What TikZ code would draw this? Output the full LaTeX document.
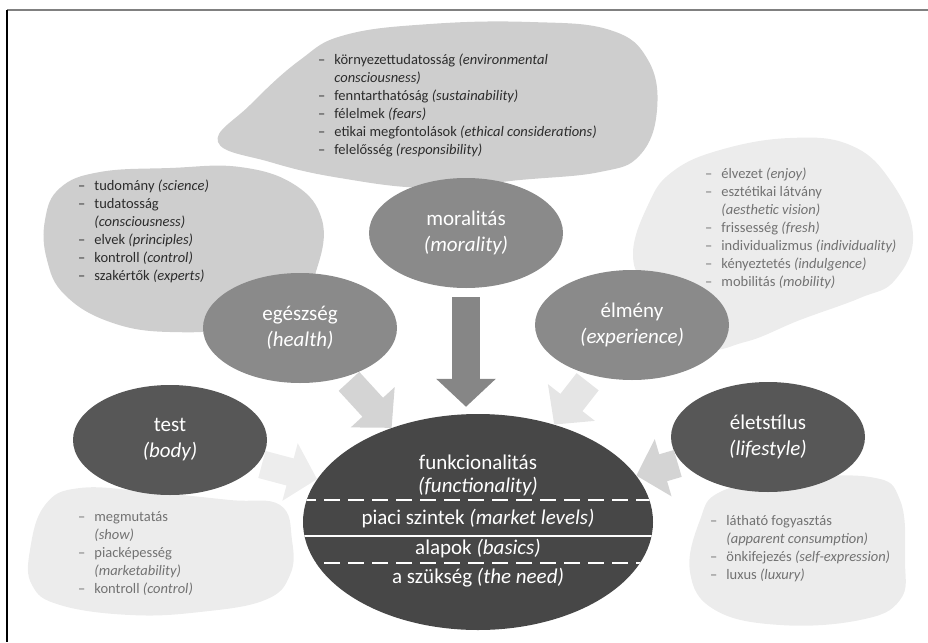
\documentclass[tikz,border=0pt]{standalone}
\usepackage{fontspec}
\setmainfont{Carlito}
\usetikzlibrary{shapes.geometric,arrows.meta}

\definecolor{cloudmid}{HTML}{CECECE}
\definecolor{cloudlight}{HTML}{ECECEC}
\definecolor{ellmid}{HTML}{8A8A8A}
\definecolor{elldark}{HTML}{575757}
\definecolor{coredark}{HTML}{474747}
\definecolor{txtdark}{HTML}{2C2C2C}
\definecolor{txtlight}{HTML}{727272}
\definecolor{arrowdark}{HTML}{868686}
\definecolor{arrowmid}{HTML}{D4D4D4}
\definecolor{arrowlight}{HTML}{E5E5E5}

\newcommand{\listfont}{\fontsize{14.5}{18}\selectfont}
\newcommand{\bigfont}{\fontsize{21}{26}\selectfont}

\begin{document}
\begin{tikzpicture}[x=1pt, y=-1pt,
  blob/.style={ellipse, minimum width=194pt, minimum height=110pt, inner sep=0pt,
    text=white, align=center, font=\bigfont},
  items/.style={anchor=north west, inner sep=0pt, font=\listfont},
  pointer/.style={line width=28pt, -{Triangle[width=58pt,length=28pt]}},
  corelabel/.style={text=white, font=\bigfont, inner sep=0pt}]
\useasboundingbox (0,0) rectangle (928,642);
\draw[gray, line width=2.5pt] (7,10) -- (928,10);
\draw[line width=1.3pt] (7,10) -- (7,642);

% clouds behind the list texts
\fill[cloudmid] plot[smooth cycle, tension=0.7] coordinates {(218,142) (250,105) (300,60)
  (345,35) (430,24) (530,22) (610,30) (648,60) (657,110) (640,155) (600,172) (520,180)
  (430,188) (340,178) (270,162)};
\fill[cloudmid] plot[smooth cycle, tension=0.7] coordinates {(45,220) (60,188) (100,172)
  (170,168) (240,167) (295,185) (322,220) (318,265) (300,290) (240,325) (170,332)
  (110,322) (65,295) (47,260)};
\fill[cloudlight] plot[smooth cycle, tension=0.7] coordinates {(633,255) (648,205)
  (672,172) (720,150) (790,138) (850,145) (890,180) (913,235) (895,280) (860,298)
  (800,320) (745,342) (700,345) (650,290)};
\fill[cloudlight] plot[smooth cycle, tension=0.7] coordinates {(30,550) (45,505) (80,488)
  (150,492) (230,500) (280,505) (292,540) (290,575) (265,600) (200,612) (130,615)
  (60,605) (32,585)};
\fill[cloudlight] plot[smooth cycle, tension=0.7] coordinates {(690,572) (700,520)
  (720,492) (780,480) (870,477) (900,500) (905,560) (900,600) (860,620) (780,625)
  (715,610)};

\node[items, text=txtdark] (moralitems) at (318,52) {\begin{tabular}{@{}l@{\hspace{9pt}}l@{}}
  – & környezettudatosság \textit{(environmental}\\
    & \textit{consciousness)}\\
  – & fenntarthatóság \textit{(sustainability)}\\
  – & félelmek \textit{(fears)}\\
  – & etikai megfontolások \textit{(ethical considerations)}\\
  – & felelősség \textit{(responsibility)}
\end{tabular}};
\node[items, text=txtdark] (healthitems) at (78,178) {\begin{tabular}{@{}l@{\hspace{9pt}}l@{}}
  – & tudomány \textit{(science)}\\
  – & tudatosság\\
    & \textit{(consciousness)}\\
  – & elvek \textit{(principles)}\\
  – & kontroll \textit{(control)}\\
  – & szakértők \textit{(experts)}
\end{tabular}};
\node[items, text=txtlight] (experitems) at (705,166) {\begin{tabular}{@{}l@{\hspace{9pt}}l@{}}
  – & élvezet \textit{(enjoy)}\\
  – & esztétikai látvány\\
    & \textit{(aesthetic vision)}\\
  – & frissesség \textit{(fresh)}\\
  – & individualizmus \textit{(individuality)}\\
  – & kényeztetés \textit{(indulgence)}\\
  – & mobilitás \textit{(mobility)}
\end{tabular}};
\node[items, text=txtlight] (bodyitems) at (78,509) {\begin{tabular}{@{}l@{\hspace{9pt}}l@{}}
  – & megmutatás\\
    & \textit{(show)}\\
  – & piacképesség\\
    & \textit{(marketability)}\\
  – & kontroll \textit{(control)}
\end{tabular}};
\node[items, text=txtlight] (lifeitems) at (710,513) {\begin{tabular}{@{}l@{\hspace{9pt}}l@{}}
  – & látható fogyasztás\\
    & \textit{(apparent consumption)}\\
  – & önkifejezés \textit{(self-expression)}\\
  – & luxus \textit{(luxury)}
\end{tabular}};

\node[blob, fill=ellmid] (moral) at (466,233) {moralitás\\\textit{(morality)}};
\node[blob, fill=ellmid] (health) at (300,328) {egészség\\\textit{(health)}};
\node[blob, fill=ellmid] (exper) at (632,325) {élmény\\\textit{(experience)}};
\node[blob, fill=elldark] (body) at (170,440) {test\\\textit{(body)}};
\node[blob, fill=elldark] (lifest) at (768,437) {életstílus\\\textit{(lifestyle)}};
\node[ellipse, fill=coredark, minimum width=350pt, minimum height=216pt, inner sep=0pt]
  (core) at (478,522) {};

\begin{scope}
\clip (478,522) ellipse (175 and 108);
\draw[white, line width=2.5pt, dash pattern=on 16pt off 8pt] (300,500) -- (660,500);
\draw[white, line width=2.5pt] (300,536) -- (660,536);
\draw[white, line width=2.5pt, dash pattern=on 16pt off 8pt] (300,563) -- (660,563);
\end{scope}

\node[corelabel] (func) at (478,462) {funkcionalitás};
\node[corelabel] (funcen) at (478,487) {\textit{(functionality)}};
\node[corelabel] (market) at (478,519) {piaci szintek \textit{(market levels)}};
\node[corelabel] (basics) at (478,549) {alapok \textit{(basics)}};
\node[corelabel] (need) at (478,578) {a szükség \textit{(the need)}};

% arrows into the core
\draw[pointer, arrowdark] ([yshift=-9pt]moral.south) -- ([yshift=7pt]moral.south |- core.north);
\draw[pointer, arrowmid, shorten <=6pt] (health) -- (core);
\draw[pointer, arrowlight, shorten <=8pt] (exper) -- (core);
\draw[pointer, arrowlight!70!white, shorten <=4pt] (body) -- (core);
\draw[pointer, arrowmid, shorten <=4pt] (lifest) -- (core);
\end{tikzpicture}
\end{document}
